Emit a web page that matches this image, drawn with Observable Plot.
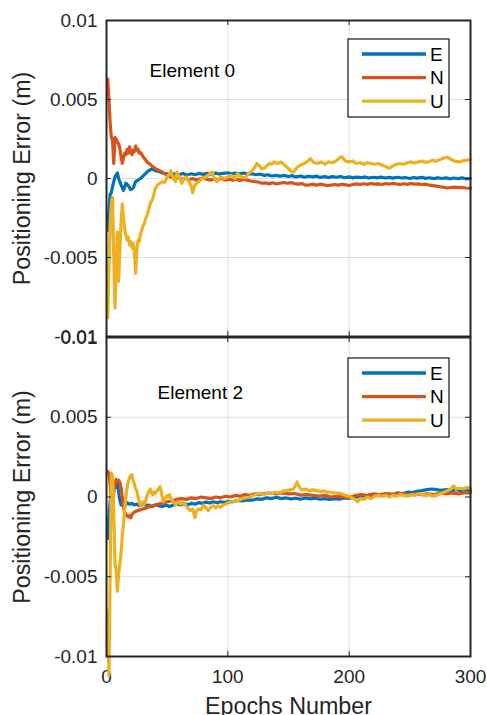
<!DOCTYPE html>
<html><head><meta charset="utf-8">
<script src="https://cdn.jsdelivr.net/npm/d3@7"></script>
<script src="https://cdn.jsdelivr.net/npm/@observablehq/plot@0.6"></script>
<style>
body{margin:0;background:#fff;}
#wrap{position:relative;width:487px;height:715px;overflow:hidden;font-family:"Liberation Sans",Arial,sans-serif;}
#wrap svg{position:absolute;left:0;overflow:visible;background:transparent;}
</style></head><body><div id="wrap"></div>
<script>
const seriesNames = ["E","N","U"];
const seriesColors = ["#0072BD","#D95319","#EDB120"];
const xTicks = [0,100,200,300];
const yTicks = [-0.01,-0.005,0,0.005,0.01];
const panelTitles = ["Element 0","Element 2"];
const xLabel = "Epochs Number";
const yLabel = "Positioning Error (m)";

// [epoch, error in mm]
const el0_E = [[1,-3.3],[2,-2.0],[3,-1.0],[4,-0.9],[5,-0.5],[6,-0.2],[7,0.1],[9,0.35],[10,0.0],[12,-0.4],[14,-0.75],[16,-0.3],[18,-0.45],[20,-0.7],[22,-0.6],[24,-0.2],[26,-0.1],[28,0.0],[30,0.15],[32,0.3],[34,0.45],[36,0.55],[38,0.62],[40,0.5],[43,0.45],[46,0.35],[50,0.3],[53,0.22],[56,0.3],[60,0.25],[63,0.32],[66,0.22],[70,0.3],[73,0.24],[76,0.32],[80,0.26],[83,0.33],[86,0.27],[90,0.34],[93,0.28],[96,0.33],[100,0.36],[103,0.3],[106,0.34],[110,0.3],[113,0.35],[116,0.28],[120,0.3],[123,0.24],[126,0.28],[130,0.2],[133,0.24],[136,0.16],[140,0.2],[143,0.14],[146,0.2],[150,0.13],[153,0.18],[156,0.1],[160,0.16],[163,0.08],[166,0.14],[170,0.1],[173,0.15],[176,0.07],[180,0.12],[183,0.06],[186,0.12],[190,0.08],[193,0.13],[196,0.05],[200,0.1],[203,0.04],[206,0.09],[210,0.05],[213,0.1],[216,0.03],[220,0.08],[223,0.04],[226,0.09],[230,0.03],[233,0.07],[236,0.02],[240,0.08],[243,0.03],[246,0.06],[250,0.0],[253,0.06],[256,0.02],[260,0.07],[263,0.01],[266,0.05],[270,-0.01],[273,0.05],[276,0.0],[280,0.04],[283,-0.02],[286,0.03],[290,-0.01],[293,0.04],[296,-0.02],[300,0.0]];
const el0_N = [[1,6.3],[2,5.0],[3,3.5],[4,2.6],[5,2.4],[6,0.95],[7,2.6],[8,2.5],[9,2.3],[10,2.2],[11,1.9],[12,1.4],[13,0.95],[14,1.3],[15,1.6],[16,1.5],[17,1.85],[18,1.6],[19,2.0],[20,1.7],[21,1.5],[22,1.8],[23,1.7],[24,2.05],[25,1.8],[26,1.85],[27,1.6],[28,1.65],[30,1.4],[32,1.2],[34,1.0],[36,0.9],[38,0.75],[40,0.65],[42,0.55],[45,0.45],[48,0.3],[50,0.2],[53,0.1],[56,0.02],[59,0.06],[62,-0.04],[65,0.02],[68,-0.08],[71,0.0],[74,-0.1],[77,-0.02],[80,0.04],[83,-0.06],[86,-0.1],[89,-0.02],[92,-0.08],[95,0.0],[98,-0.1],[101,-0.04],[104,-0.1],[107,-0.05],[110,-0.12],[113,-0.06],[116,-0.1],[119,-0.16],[122,-0.2],[125,-0.22],[128,-0.3],[131,-0.28],[134,-0.34],[137,-0.27],[140,-0.35],[143,-0.3],[146,-0.25],[149,-0.3],[152,-0.26],[155,-0.32],[158,-0.36],[161,-0.32],[164,-0.42],[167,-0.4],[170,-0.36],[173,-0.42],[176,-0.36],[179,-0.4],[182,-0.44],[185,-0.42],[188,-0.38],[191,-0.42],[194,-0.36],[197,-0.4],[200,-0.44],[203,-0.38],[206,-0.34],[209,-0.38],[212,-0.33],[215,-0.37],[218,-0.32],[221,-0.36],[224,-0.34],[227,-0.38],[230,-0.32],[233,-0.36],[236,-0.3],[239,-0.35],[242,-0.38],[245,-0.33],[248,-0.37],[251,-0.32],[254,-0.36],[257,-0.34],[260,-0.38],[263,-0.36],[266,-0.42],[269,-0.45],[272,-0.48],[275,-0.52],[278,-0.56],[281,-0.6],[284,-0.57],[287,-0.55],[290,-0.58],[293,-0.56],[296,-0.6],[300,-0.62]];
const el0_U = [[1,-8.8],[2,-5.5],[3,-3.0],[4,-1.5],[5,-1.2],[6,-5.0],[7,-8.2],[8,-6.0],[9,-3.4],[10,-6.5],[11,-4.5],[12,-2.8],[13,-1.6],[14,-2.5],[15,-3.2],[16,-3.6],[17,-3.9],[18,-3.7],[19,-4.2],[20,-4.0],[21,-4.4],[22,-4.1],[23,-4.6],[24,-6.0],[25,-4.5],[26,-3.9],[27,-4.0],[28,-3.5],[29,-3.3],[30,-3.0],[31,-2.9],[32,-2.6],[34,-2.2],[36,-1.6],[38,-1.3],[40,-0.7],[42,-0.4],[44,-0.3],[46,-0.2],[48,-0.25],[50,0.1],[52,0.3],[53,0.5],[55,0.0],[57,-0.2],[58,0.4],[60,0.1],[62,-0.3],[64,0.0],[66,0.1],[68,-0.2],[70,-0.5],[71,-0.9],[73,-0.4],[76,-0.2],[79,0.0],[82,0.1],[85,0.3],[87,0.4],[89,0.0],[91,-0.2],[94,0.1],[97,0.0],[100,0.1],[103,0.2],[106,0.0],[108,0.3],[111,0.1],[114,0.05],[117,0.3],[120,0.5],[122,0.7],[124,0.95],[126,0.8],[128,0.6],[131,0.7],[134,0.95],[136,0.9],[138,1.05],[141,0.95],[144,1.05],[146,0.9],[149,0.7],[152,0.45],[154,0.4],[157,0.7],[160,0.85],[163,0.95],[166,1.1],[168,1.25],[171,1.0],[174,0.95],[177,1.05],[180,0.9],[183,1.05],[186,1.0],[189,1.1],[192,1.3],[194,1.38],[197,1.1],[200,1.05],[203,1.1],[206,0.95],[209,1.0],[212,0.9],[215,1.0],[218,0.95],[221,0.9],[224,0.95],[227,0.85],[230,0.75],[233,0.65],[236,0.8],[239,0.9],[242,0.95],[245,0.9],[248,1.0],[251,1.05],[254,0.98],[257,1.05],[260,1.1],[263,1.02],[266,1.08],[269,1.15],[272,1.1],[275,1.2],[278,1.3],[281,1.35],[284,1.2],[287,1.1],[290,1.05],[293,1.1],[296,1.15],[300,1.2]];

const el2_E = [[1,-2.6],[2,-1.2],[3,-0.3],[4,0.2],[5,0.5],[6,0.7],[7,0.9],[8,0.6],[9,0.95],[10,0.3],[11,-0.2],[12,-0.5],[13,-0.35],[14,-0.6],[15,-0.4],[16,-0.5],[17,-0.35],[19,-0.45],[21,-0.4],[23,-0.5],[25,-0.45],[27,-0.55],[29,-0.5],[31,-0.45],[33,-0.55],[35,-0.5],[37,-0.6],[40,-0.5],[43,-0.55],[46,-0.6],[49,-0.5],[52,-0.6],[55,-0.5],[58,-0.45],[61,-0.5],[64,-0.42],[67,-0.48],[70,-0.4],[73,-0.45],[76,-0.35],[79,-0.4],[82,-0.32],[85,-0.38],[88,-0.3],[91,-0.36],[94,-0.3],[97,-0.34],[100,-0.28],[104,-0.3],[108,-0.22],[112,-0.25],[116,-0.18],[120,-0.2],[124,-0.12],[128,-0.15],[132,-0.05],[136,-0.1],[140,-0.02],[144,-0.1],[148,-0.06],[152,-0.12],[156,-0.08],[160,-0.14],[164,-0.06],[168,-0.12],[172,-0.08],[176,-0.14],[180,-0.1],[184,-0.16],[188,-0.1],[192,-0.14],[196,-0.06],[200,-0.08],[204,-0.02],[208,0.02],[212,0.06],[216,0.1],[220,0.08],[224,0.14],[228,0.12],[232,0.18],[236,0.16],[240,0.24],[244,0.22],[248,0.3],[252,0.28],[256,0.36],[260,0.4],[264,0.46],[268,0.5],[272,0.46],[276,0.42],[280,0.46],[284,0.4],[288,0.46],[292,0.4],[296,0.44],[300,0.4]];
const el2_N = [[1,1.6],[2,1.5],[3,0.8],[4,-0.2],[5,-0.5],[6,0.3],[7,0.9],[8,1.1],[9,1.0],[10,1.05],[11,0.9],[12,0.6],[13,0.0],[14,-0.6],[15,-0.95],[16,-1.1],[17,-1.2],[18,-1.25],[19,-1.15],[20,-1.3],[21,-1.1],[22,-1.0],[24,-0.9],[26,-0.85],[28,-0.8],[30,-0.75],[32,-0.7],[34,-0.65],[36,-0.55],[38,-0.6],[40,-0.5],[43,-0.45],[46,-0.4],[50,-0.3],[54,-0.25],[58,-0.15],[62,-0.1],[66,-0.15],[70,-0.05],[74,-0.1],[78,0.0],[82,-0.05],[86,-0.1],[90,0.0],[94,-0.05],[98,0.05],[102,0.0],[106,0.1],[110,0.05],[114,0.15],[118,0.1],[122,0.2],[126,0.15],[130,0.22],[135,0.25],[140,0.2],[145,0.25],[150,0.2],[155,0.22],[160,0.12],[165,0.15],[170,0.1],[175,0.05],[180,0.1],[185,0.0],[190,0.05],[195,0.0],[200,-0.05],[205,0.1],[210,0.15],[215,0.1],[220,0.2],[225,0.15],[230,0.22],[235,0.15],[240,0.25],[245,0.2],[250,0.15],[255,0.2],[260,0.15],[265,0.2],[270,0.15],[275,0.25],[280,0.2],[285,0.25],[290,0.2],[295,0.25],[300,0.25]];
const el2_U = [[1,-7.1],[2,-11.2],[3,-5.0],[4,1.5],[5,1.3],[6,-1.0],[7,-4.2],[8,-4.6],[9,-5.9],[10,-4.8],[11,-4.2],[12,-3.5],[13,-2.5],[14,-1.7],[15,-0.8],[16,0.0],[17,0.6],[18,1.0],[19,1.2],[20,1.35],[21,1.4],[22,1.0],[23,0.8],[24,0.5],[25,0.4],[26,0.0],[27,-0.3],[28,-0.55],[29,-0.5],[30,-0.3],[31,-0.45],[32,-0.35],[33,0.0],[34,0.2],[35,0.35],[36,0.5],[37,0.3],[38,0.15],[39,0.3],[40,0.2],[41,0.35],[42,0.4],[43,0.55],[44,0.65],[45,0.4],[46,0.0],[47,-0.3],[48,-0.2],[49,0.0],[50,0.1],[51,0.0],[52,0.15],[53,-0.1],[55,-0.3],[57,-0.5],[59,-0.3],[61,-0.45],[63,-0.35],[65,-0.5],[67,-0.7],[69,-0.85],[71,-0.75],[73,-1.3],[74,-0.9],[76,-0.75],[78,-0.8],[80,-0.5],[82,-0.7],[84,-0.85],[86,-0.65],[88,-0.55],[90,-0.7],[92,-0.55],[94,-0.65],[96,-0.5],[98,-0.45],[100,-0.35],[103,-0.3],[106,-0.25],[109,-0.2],[112,-0.1],[115,-0.05],[118,0.0],[121,0.1],[124,0.2],[127,0.2],[130,0.15],[133,0.25],[136,0.2],[139,0.3],[142,0.25],[145,0.35],[148,0.4],[151,0.45],[154,0.5],[156,0.75],[157,0.95],[159,0.6],[161,0.45],[164,0.5],[167,0.4],[170,0.45],[173,0.4],[176,0.35],[179,0.38],[182,0.3],[185,0.3],[188,0.25],[191,0.25],[194,0.2],[197,0.1],[200,0.05],[202,-0.05],[205,-0.15],[207,-0.3],[209,-0.1],[212,-0.15],[215,0.0],[218,-0.1],[221,0.05],[224,0.1],[227,0.05],[230,0.1],[233,0.0],[236,0.1],[239,0.05],[242,0.15],[245,0.1],[248,0.05],[251,0.15],[254,0.1],[257,0.2],[260,0.15],[263,0.1],[266,0.15],[269,0.05],[272,0.1],[275,0.2],[278,0.3],[281,0.4],[284,0.5],[286,0.7],[288,0.5],[291,0.55],[294,0.5],[297,0.6],[300,0.55]];

const W = 487, ML = 106, MR = 17;
const ink = "#262626";
const font = "Liberation Sans, Arial, Helvetica, sans-serif";

function panel({title, series, top, height, mt, mb, showX, titleDx, titleDy}) {
  const fw = W - ML - MR, fh = height - mt - mb;
  const marks = [
    Plot.gridX(xTicks.slice(1, -1), {stroke: ink, strokeOpacity: 0.15, strokeWidth: 1}),
    Plot.gridY(yTicks.slice(1, -1), {stroke: ink, strokeOpacity: 0.15, strokeWidth: 1}),
    Plot.axisY(yTicks, {tickSize: 0, tickPadding: 9, tickFormat: d => String(d), label: null, fontSize: 19}),
  ];
  if (showX) {
    marks.push(Plot.axisX(xTicks, {tickSize: 0, tickPadding: 13, tickFormat: d => String(d), label: null, fontSize: 19}));
    marks.push(Plot.text([xLabel], {frameAnchor: "bottom", dy: 41, lineAnchor: "top", textAnchor: "middle", fontSize: 23.3, fill: ink}));
  }
  series.forEach((s, i) => {
    marks.push(Plot.line(s, {x: d => d[0], y: d => d[1] / 1000, stroke: seriesColors[i], strokeWidth: 3.2, strokeLinejoin: "round"}));
  });
  marks.push(
    Plot.tickY(yTicks, {y: d => d, insetRight: fw - 5, stroke: ink, strokeWidth: 1}),
    Plot.tickY(yTicks, {y: d => d, insetLeft: fw - 5, stroke: ink, strokeWidth: 1}),
    Plot.tickX(xTicks, {x: d => d, insetTop: fh - 5, stroke: ink, strokeWidth: 1}),
    Plot.tickX(xTicks, {x: d => d, insetBottom: fh - 5, stroke: ink, strokeWidth: 1}),
    Plot.frame({stroke: ink, strokeWidth: 2}),
    Plot.text([title], {frameAnchor: "top-left", dx: titleDx, dy: titleDy, lineAnchor: "top", textAnchor: "start", fontSize: 19, fill: "#000"}),
    Plot.text([yLabel], {frameAnchor: "left", rotate: -90, dx: -92.7, lineAnchor: "top", textAnchor: "middle", fontSize: 23.3, fill: ink})
  );
  const svg = Plot.plot({
    width: W, height,
    marginTop: mt, marginBottom: mb, marginLeft: ML, marginRight: MR,
    x: {domain: [0, 300], axis: showX ? undefined : null},
    y: {domain: [-0.01, 0.01]},
    style: {fontFamily: font, fontSize: "19px", color: ink, background: "transparent", overflow: "visible"},
    marks
  });
  svg.style.top = top + "px";
  return svg;
}

const wrap = document.getElementById("wrap");
wrap.appendChild(panel({title: panelTitles[0], series: [el0_E, el0_N, el0_U], top: 0, height: 360, mt: 20, mb: 24, showX: false, titleDx: 43, titleDy: 43}));
wrap.appendChild(panel({title: panelTitles[1], series: [el2_E, el2_N, el2_U], top: 317, height: 398, mt: 20, mb: 59, showX: true, titleDx: 51, titleDy: 48}));

// legends
const legendBoxes = [{x: 348, y: 39, w: 101, h: 78}, {x: 348, y: 358, w: 101, h: 79}];
const lg = d3.create("svg").attr("width", W).attr("height", 715).style("top", "0px").style("pointer-events", "none");
legendBoxes.forEach(b => {
  const g = lg.append("g").attr("transform", `translate(${b.x},${b.y})`);
  g.append("rect").attr("width", b.w).attr("height", b.h).attr("fill", "#fff").attr("stroke", ink).attr("stroke-width", 1.3);
  seriesNames.forEach((n, i) => {
    const yy = 15 + i * 23.6;
    g.append("line").attr("x1", 14).attr("x2", 78).attr("y1", yy).attr("y2", yy).attr("stroke", seriesColors[i]).attr("stroke-width", 3.3);
    g.append("text").attr("x", 82).attr("y", yy).attr("dy", "0.36em").attr("font-size", 19).attr("font-family", font).attr("fill", "#000").text(n);
  });
});
wrap.appendChild(lg.node());
</script></body></html>
